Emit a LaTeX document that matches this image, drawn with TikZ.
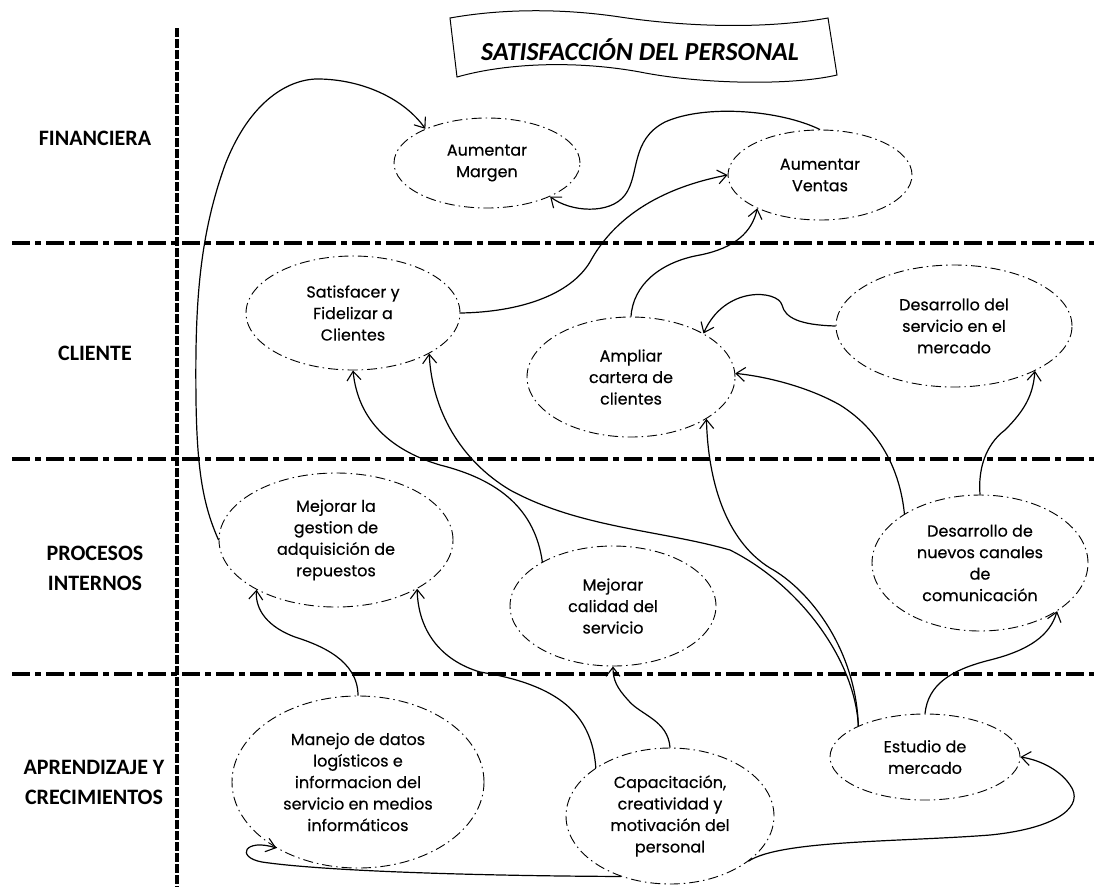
\documentclass[tikz,border=0pt]{standalone}
\usepackage{fontspec}
\setmainfont{Poppins}
\newfontfamily\goalfont[FakeBold=0.4]{Poppins}
\newfontfamily\lblfont{Carlito}
\usetikzlibrary{shapes.geometric,arrows.meta}
\begin{document}
\begin{tikzpicture}[x=1pt,y=-1pt,
  goal/.style={ellipse, draw, line width=0.9pt, dash pattern=on 10pt off 4pt on 1.5pt off 4pt, inner sep=0pt, align=center, font=\goalfont\fontsize{16}{21.5}\selectfont},
  link/.style={line width=1.2pt, -{Straight Barb[length=9pt,width=14pt,line width=1.1pt]}},
  band/.style={line width=3.5pt, dash pattern=on 18pt off 5pt on 6pt off 5pt},
  lane/.style={font=\lblfont\bfseries\fontsize{22}{30}\selectfont, align=center},
  axis/.style={line width=3.4pt, dash pattern=on 9pt off 2pt}
]
\useasboundingbox (0,0) rectangle (1094,887);

% perspective bands
\draw[band] (12,243) -- (1094,243);
\draw[band] (12,459) -- (1094,459);
\draw[band] (12,674) -- (1094,674);
\draw[axis] (177,28) -- (177,887);

% perspective labels
\node[lane] (fin) at (95,138) {FINANCIERA};
\node[lane] (cli) at (95,353) {CLIENTE};
\node[lane] (pro) at (95,568) {PROCESOS\\INTERNOS};
\node[lane] (apr) at (94,782) {APRENDIZAJE Y\\CRECIMIENTOS};

% title banner
\draw[line width=1pt] (450,18) .. controls (500,9) and (560,8) .. (620,17)
  .. controls (680,26) and (760,30) .. (828,18) -- (837,75)
  .. controls (790,86) and (700,84) .. (640,72)
  .. controls (580,61) and (510,62) .. (457,77) -- cycle;
\node (title) at (640,50) {\lblfont\bfseries\itshape\fontsize{26}{30}\selectfont SATISFACCIÓN DEL PERSONAL};

% objectives
\node[goal, minimum width=186pt, minimum height=90pt] (margen) at (487,163) {Aumentar\\Margen};
\node[goal, minimum width=184pt, minimum height=90pt] (ventas) at (820,175) {Aumentar\\Ventas};
\node[goal, minimum width=214pt, minimum height=114pt] (satisf) at (353,313) {Satisfacer y\\Fidelizar a\\Clientes};
\node[goal, minimum width=208pt, minimum height=120pt] (ampliar) at (631,377) {Ampliar\\cartera de\\clientes};
\node[goal, minimum width=236pt, minimum height=122pt] (dservicio) at (954,326) {Desarrollo del\\servicio en el\\mercado};
\node[goal, minimum width=234pt, minimum height=134pt] (gestion) at (336,540) {Mejorar la\\gestion de\\adquisición de\\repuestos};
\node[goal, minimum width=206pt, minimum height=120pt] (calidad) at (613,606) {Mejorar\\calidad del\\servicio};
\node[goal, minimum width=216pt, minimum height=136pt] (canales) at (980,563) {Desarrollo de\\nuevos canales\\de\\comunicación};
\node[goal, minimum width=252pt, minimum height=172pt] (manejo) at (358,782) {Manejo de datos\\logísticos e\\informacion del\\servicio en medios\\informáticos};
\node[goal, minimum width=208pt, minimum height=136pt] (capac) at (670,816) {Capacitación,\\creatividad y\\motivación del\\personal};
\node[goal, minimum width=190pt, minimum height=86pt] (estudio) at (925,757) {Estudio de\\mercado};

% cause-effect links
\draw[link] (gestion.180) .. controls (203,505) and (197,470) .. (196,400)
  .. controls (195,310) and (198,240) .. (225,165)
  .. controls (250,100) and (290,78) .. (320,79)
  .. controls (365,80) and (405,100) .. (margen.151.7);
\draw[link] (ventas.90) .. controls (780,110) and (705,104) .. (665,122)
  .. controls (630,140) and (640,175) .. (625,195)
  .. controls (610,215) and (570,212) .. (margen.-28.3);
\draw[link] (satisf.0) .. controls (520,312) and (570,295) .. (590,262)
  .. controls (610,225) and (650,190) .. (ventas.180);
\draw[link] (ampliar.90) .. controls (633,285) and (660,262) .. (700,255)
  .. controls (735,248) and (752,232) .. (ventas.-152.4);
\draw[link] (dservicio.180) .. controls (800,325) and (785,318) .. (782,305)
  .. controls (778,290) and (725,285) .. (ampliar.31.3);
\draw[link] (canales.147.2) .. controls (900,470) and (880,430) .. (840,405)
  .. controls (810,388) and (770,377) .. (ampliar.2);
\draw[link] (canales.90) .. controls (978,470) and (985,445) .. (1005,430)
  .. controls (1025,410) and (1033,395) .. (dservicio.-29.3);
\draw[link] (estudio.90) .. controls (928,685) and (950,670) .. (990,660)
  .. controls (1030,650) and (1050,635) .. (canales.-32.1);
\draw[link] (estudio.155.9) .. controls (855,660) and (800,585) .. (730,550)
  .. controls (660,530) and (580,528) .. (510,490)
  .. controls (460,460) and (432,410) .. (satisf.-28.6);
\draw[link] (estudio.155.9) .. controls (856,650) and (810,590) .. (770,568)
  .. controls (725,540) and (708,480) .. (ampliar.-29.8);
\draw[link] (calidad.148.9) .. controls (535,510) and (500,480) .. (440,465)
  .. controls (390,450) and (358,420) .. (satisf.-90);
\draw[link] (manejo.90) .. controls (358,660) and (320,645) .. (295,637)
  .. controls (268,627) and (255,610) .. (gestion.-148.9);
\draw[link] (capac.147) .. controls (592,715) and (560,685) .. (480,672)
  .. controls (440,660) and (418,630) .. (gestion.-31.7);
\draw[link] (capac.90) .. controls (668,720) and (640,715) .. (628,700)
  .. controls (617,688) and (613,680) .. (calidad.-90);
\draw[link] (capac.-30.9) .. controls (780,840) and (900,842) .. (990,835)
  .. controls (1060,828) and (1085,805) .. (1070,785)
  .. controls (1060,770) and (1040,760) .. (estudio.0);
\draw[link] (capac.-129.3) .. controls (500,876) and (330,872) .. (262,862)
  .. controls (235,857) and (245,838) .. (manejo.-141.5);
\end{tikzpicture}
\end{document}
